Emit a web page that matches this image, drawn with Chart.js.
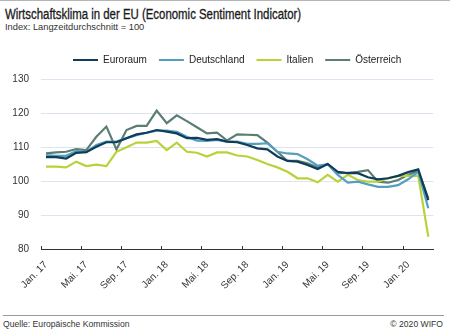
<!DOCTYPE html>
<html>
<head>
<meta charset="utf-8">
<script src="https://cdn.jsdelivr.net/npm/chart.js@4"></script>
<style>
  html, body { margin: 0; padding: 0; background: #fff; width: 450px; height: 332px; overflow: hidden;
    font-family: 'Liberation Sans', Arial, sans-serif; color: #222; }
  #rule-top { position: absolute; left: 0; top: 0; width: 450px; height: 1px; background: #b4b4b4; }
  #title { position: absolute; left: 5px; top: 6px; font-size: 14px; white-space: nowrap;
    font-family: 'Liberation Sans', Arial, sans-serif; color: #1a1a1a;
    -webkit-text-stroke: 0.3px #1a1a1a;
    transform: scaleX(0.815); transform-origin: 0 0; }
  #subtitle { position: absolute; left: 5px; top: 22px; font-size: 9.3px; white-space: nowrap; color: #333; }
  #wrap { position: absolute; left: 0; top: 43px; width: 450px; height: 269px; }
  #rule-bottom { position: absolute; left: 3px; top: 315px; width: 441px; height: 1px; background: #9a9a9a; }
  #source { position: absolute; left: 3px; top: 319px; font-size: 8.6px; white-space: nowrap; color: #333; }
  #copy { position: absolute; right: 7px; top: 319px; font-size: 8.6px; white-space: nowrap; color: #333; }
</style>
</head>
<body>
<div id="rule-top"></div>
<div id="title">Wirtschaftsklima in der EU (Economic Sentiment Indicator)</div>
<div id="subtitle">Index: Langzeitdurchschnitt = 100</div>
<div id="wrap"><canvas id="chart" width="450" height="269"></canvas></div>
<div id="rule-bottom"></div>
<div id="source">Quelle: Europäische Kommission</div>
<div id="copy">© 2020 WIFO</div>

<script>
// Monthly categories, Jan. 2017 – Mär. 2020
const categories = [
  'Jan. 17', 'Feb. 17', 'Mär. 17', 'Apr. 17', 'Mai. 17', 'Jun. 17', 'Jul. 17', 'Aug. 17', 'Sep. 17', 'Okt. 17', 'Nov. 17', 'Dez. 17',
  'Jan. 18', 'Feb. 18', 'Mär. 18', 'Apr. 18', 'Mai. 18', 'Jun. 18', 'Jul. 18', 'Aug. 18', 'Sep. 18', 'Okt. 18', 'Nov. 18', 'Dez. 18',
  'Jan. 19', 'Feb. 19', 'Mär. 19', 'Apr. 19', 'Mai. 19', 'Jun. 19', 'Jul. 19', 'Aug. 19', 'Sep. 19', 'Okt. 19', 'Nov. 19', 'Dez. 19',
  'Jan. 20', 'Feb. 20', 'Mär. 20'
];

// Economic Sentiment Indicator (long-term average = 100)
const euroraum = [
  107.0, 107.0, 106.6, 108.3, 108.5, 110.1, 111.4, 111.4, 112.6, 113.7, 114.2, 115.0,
  114.5, 114.0, 112.6, 112.7, 112.1, 112.3, 111.6, 111.4, 110.6, 109.6, 109.3, 107.2,
  105.9, 105.7, 104.7, 103.5, 105.0, 102.7, 102.3, 102.3, 101.1, 100.5, 100.8, 101.5,
  102.6, 103.4, 94.4
];
const deutschland = [
  107.6, 107.4, 107.4, 108.8, 108.5, 110.6, 111.6, 111.6, 112.6, 113.5, 114.2, 114.8,
  114.8, 114.5, 113.0, 111.9, 111.8, 112.1, 111.6, 111.6, 110.9, 110.9, 111.1, 108.6,
  108.1, 107.9, 106.4, 104.5, 104.9, 101.8, 99.5, 99.8, 99.0, 98.3, 98.3, 98.8,
  100.5, 102.7, 92.0
];
const italien = [
  104.2, 104.2, 104.0, 105.7, 104.4, 104.8, 104.4, 108.6, 109.9, 111.3, 111.3, 111.8,
  109.1, 111.3, 108.6, 108.3, 107.2, 108.4, 108.4, 107.5, 107.2, 106.2, 105.0, 104.0,
  102.7, 100.8, 100.8, 99.6, 101.8, 99.8, 101.8, 100.3, 99.8, 99.8, 100.8, 101.5,
  101.5, 101.5, 83.6
];
const oesterreich = [
  108.1, 108.4, 108.6, 109.4, 109.1, 113.0, 116.0, 109.3, 115.0, 116.2, 116.2, 120.7,
  117.0, 119.3, 117.6, 115.8, 114.0, 114.2, 111.9, 113.7, 113.6, 113.5, 111.3, 108.6,
  105.9, 105.9, 105.2, 104.0, 105.0, 102.3, 102.4, 102.7, 103.2, 99.8, 99.5, 100.3,
  101.8, 103.0, 94.9
];

// Value axis ticks
const yTicks = [80, 90, 100, 110, 120, 130];

const FONT = "'Liberation Sans', Arial, sans-serif";
const LEGEND_HEIGHT = 36;

function series(label, data, color) {
  return { label, data, borderColor: color, backgroundColor: color, borderWidth: 2.2,
           pointRadius: 0, tension: 0, fill: false };
}

// Legend: fixed band height, centred over the plot area
const legendPlacement = {
  id: 'legendPlacement',
  beforeLayout(chart) {
    const lg = chart.legend;
    if (lg && !lg.$fixedFit) {
      const fit = lg.fit.bind(lg);
      lg.fit = function () { fit(); this.height = LEGEND_HEIGHT; };
      lg.$fixedFit = true;
    }
  },
  afterLayout(chart) {
    const lg = chart.legend, area = chart.chartArea;
    if (!lg) return;
    const shift = (area.left + area.right) / 2 - (lg.left + lg.right) / 2;
    lg.left += shift;
    lg.right += shift;
  }
};

new Chart(document.getElementById('chart'), {
  type: 'line',
  data: {
    labels: categories,
    datasets: [
      series('Euroraum', euroraum, '#0e3c59'),
      series('Deutschland', deutschland, '#549fc0'),
      series('Italien', italien, '#b9d23a'),
      series('Österreich', oesterreich, '#5a7e72')
    ]
  },
  plugins: [legendPlacement],
  options: {
    responsive: false,
    animation: false,
    layout: { padding: { left: 0, right: 16, top: 0, bottom: 0 } },
    plugins: {
      legend: {
        position: 'top',
        align: 'center',
        labels: {
          usePointStyle: true,
          pointStyle: 'line',
          pointStyleWidth: 25,
          padding: 12,
          color: '#222',
          font: { size: 10, family: FONT }
        }
      },
      tooltip: { enabled: false }
    },
    scales: {
      x: {
        offset: true,
        grid: {
          offset: true,
          drawOnChartArea: false,
          tickLength: -3,
          lineWidth: 1,
          tickColor: (c) => (c.index !== undefined && c.index % 4 === 0) ? '#333' : 'rgba(0,0,0,0)'
        },
        border: { color: '#333', width: 1 },
        ticks: {
          autoSkip: false,
          minRotation: 45,
          maxRotation: 45,
          padding: 13,
          color: '#333',
          font: { size: 10, family: FONT },
          callback: (v, i) => (i % 4 === 0 ? categories[i] : '')
        },
        afterFit: (s) => { s.height = 63; }
      },
      y: {
        min: yTicks[0],
        max: yTicks[yTicks.length - 1],
        afterBuildTicks: (s) => { s.ticks = yTicks.map(v => ({ value: v })); },
        ticks: { padding: 12, color: '#333', font: { size: 10, family: FONT } },
        grid: {
          drawTicks: false,
          color: (c) => (c.tick && c.tick.value === yTicks[0]) ? 'rgba(0,0,0,0)' : '#dde3ef',
          lineWidth: 1
        },
        border: { display: false },
        afterFit: (s) => { s.width = 41; }
      }
    }
  }
});
</script>
</body>
</html>
